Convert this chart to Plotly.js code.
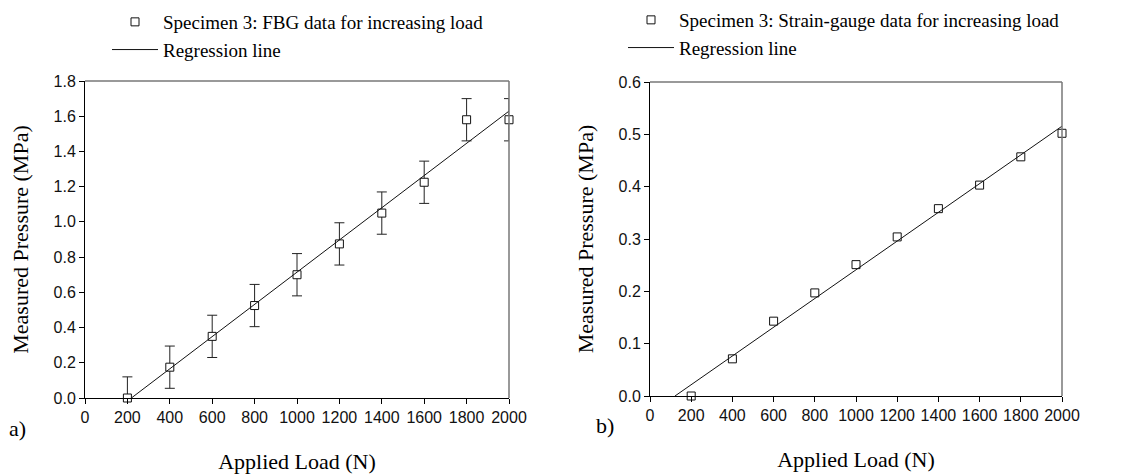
<!DOCTYPE html>
<html>
<head>
<meta charset="utf-8">
<script src="https://cdn.plot.ly/plotly-3.0.1.min.js"></script>
<style>html,body{margin:0;padding:0;background:#fff;}#chart{width:1131px;height:474px;}</style>
</head>
<body>
<div id="chart"></div>
<script>
// Applied load (N)
const loads = [200, 400, 600, 800, 1000, 1200, 1400, 1600, 1800, 2000];
// Panel a) FBG measured pressure (MPa) and error (+/-)
const fbgPressure = [0.0, 0.175, 0.35, 0.525, 0.70, 0.875, 1.05, 1.225, 1.58, 1.58];
const fbgError = [0.12, 0.12, 0.12, 0.12, 0.12, 0.12, 0.12, 0.12, 0.12, 0.12];
// Panel b) strain-gauge measured pressure (MPa)
const sgPressure = [0.0, 0.071, 0.143, 0.197, 0.251, 0.304, 0.358, 0.403, 0.457, 0.502];
const xTicks = [0, 200, 400, 600, 800, 1000, 1200, 1400, 1600, 1800, 2000];
const yTicksA = [0.0, 0.2, 0.4, 0.6, 0.8, 1.0, 1.2, 1.4, 1.6, 1.8];
const yTicksB = [0.0, 0.1, 0.2, 0.3, 0.4, 0.5, 0.6];

// least-squares regression, drawn from the zero crossing to the last load
function regression(xs, ys) {
  const n = xs.length;
  const mx = xs.reduce((a, b) => a + b, 0) / n;
  const my = ys.reduce((a, b) => a + b, 0) / n;
  let sxy = 0, sxx = 0;
  for (let i = 0; i < n; i++) { sxy += (xs[i] - mx) * (ys[i] - my); sxx += (xs[i] - mx) ** 2; }
  const m = sxy / sxx, c = my - m * mx;
  const x0 = -c / m, x1 = xs[n - 1];
  return { x: [x0, x1], y: [0, m * x1 + c] };
}
const regA = regression(loads, fbgPressure);
const regB = regression(loads, sgPressure);

const serif = 'Liberation Serif, Times New Roman, serif';
const sans = 'Liberation Sans, Arial, sans-serif';

const traces = [
  { x: loads, y: fbgPressure, type: 'scatter', mode: 'markers', name: 'Specimen 3: FBG data for increasing load',
    marker: { symbol: 'square', size: 8, color: '#fff', line: { width: 1, color: '#111' } },
    error_y: { type: 'data', array: fbgError, visible: true, color: '#222', thickness: 1, width: 5 },
    xaxis: 'x', yaxis: 'y', legend: 'legend', cliponaxis: false },
  { x: regA.x, y: regA.y, type: 'scatter', mode: 'lines', name: 'Regression line',
    line: { color: '#111', width: 1 }, xaxis: 'x', yaxis: 'y', legend: 'legend' },
  { x: loads, y: sgPressure, type: 'scatter', mode: 'markers', name: 'Specimen 3: Strain-gauge data for increasing load',
    marker: { symbol: 'square', size: 8, color: '#fff', line: { width: 1, color: '#111' } },
    xaxis: 'x2', yaxis: 'y2', legend: 'legend2', cliponaxis: false },
  { x: regB.x, y: regB.y, type: 'scatter', mode: 'lines', name: 'Regression line',
    line: { color: '#111', width: 1 }, xaxis: 'x2', yaxis: 'y2', legend: 'legend2' }
];

function xAxis(domain, anchor) {
  return {
    domain: domain, anchor: anchor, range: [0, 2000], tickvals: xTicks, ticktext: xTicks.map(String),
    showgrid: false, zeroline: false, showline: true, linecolor: '#000', linewidth: 1,
    ticks: 'outside', ticklen: 5, tickcolor: '#000', tickfont: { family: sans, size: 16, color: '#111' },
    title: { text: 'Applied Load (N)', font: { family: serif, size: 22, color: '#000' }, standoff: 28 }
  };
}
function yAxis(domain, anchor, range, vals) {
  return {
    domain: domain, anchor: anchor, range: range, tickvals: vals, ticktext: vals.map(v => v.toFixed(1)),
    showgrid: false, zeroline: false, showline: true, linecolor: '#000', linewidth: 1,
    ticks: 'outside', ticklen: 5, tickcolor: '#000', tickfont: { family: sans, size: 16, color: '#111' },
    title: { text: 'Measured Pressure (MPa)', font: { family: serif, size: 22, color: '#000' }, standoff: 18 }
  };
}

const layout = {
  width: 1131, height: 474,
  margin: { l: 0, r: 0, t: 0, b: 0 },
  paper_bgcolor: '#fff', plot_bgcolor: '#fff',
  showlegend: true,
  xaxis: xAxis([85 / 1131, 509 / 1131], 'y'),
  yaxis: yAxis([1 - 398 / 474, 1 - 81 / 474], 'x', [0, 1.8], yTicksA),
  xaxis2: xAxis([650 / 1131, 1062 / 1131], 'y2'),
  yaxis2: yAxis([1 - 396 / 474, 1 - 82 / 474], 'x2', [0, 0.6], yTicksB),
  legend: { x: 107 / 1131, y: 1 - 3 / 474, xanchor: 'left', yanchor: 'top', bgcolor: 'rgba(0,0,0,0)',
    font: { family: serif, size: 19, color: '#000' }, itemwidth: 46, tracegroupgap: 0 },
  legend2: { x: 623 / 1131, y: 1 - 1 / 474, xanchor: 'left', yanchor: 'top', bgcolor: 'rgba(0,0,0,0)',
    font: { family: serif, size: 19, color: '#000' }, itemwidth: 46, tracegroupgap: 0 },
  shapes: [
    { type: 'line', xref: 'x domain', yref: 'y domain', x0: 0, x1: 1, y0: 1, y1: 1, line: { color: '#777', width: 1.5 } },
    { type: 'line', xref: 'x domain', yref: 'y domain', x0: 1, x1: 1, y0: 0, y1: 1, line: { color: '#777', width: 1.5 } },
    { type: 'line', xref: 'x2 domain', yref: 'y2 domain', x0: 0, x1: 1, y0: 1, y1: 1, line: { color: '#777', width: 1.5 } },
    { type: 'line', xref: 'x2 domain', yref: 'y2 domain', x0: 1, x1: 1, y0: 0, y1: 1, line: { color: '#777', width: 1.5 } }
  ],
  annotations: [
    { text: 'a)', xref: 'paper', yref: 'paper', x: 7 / 1131, y: 1 - 428 / 474, xanchor: 'left', yanchor: 'middle', showarrow: false,
      font: { family: serif, size: 22, color: '#000' } },
    { text: 'b)', xref: 'paper', yref: 'paper', x: 594 / 1131, y: 1 - 425 / 474, xanchor: 'left', yanchor: 'middle', showarrow: false,
      font: { family: serif, size: 22, color: '#000' } }
  ]
};

Plotly.newPlot('chart', traces, layout, { displayModeBar: false, staticPlot: true });
</script>
</body>
</html>
